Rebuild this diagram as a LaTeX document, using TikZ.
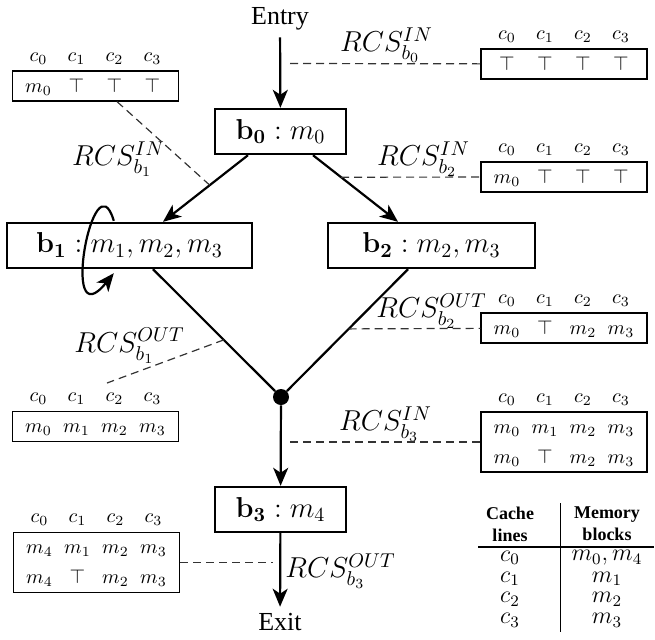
\documentclass[tikz,border=0pt]{standalone}
\usepackage[no-math]{fontspec}
\setmainfont{Liberation Serif}
\usepackage{amsmath}
\usepackage{array}
\usetikzlibrary{calc}
\usetikzlibrary{positioning}
\usetikzlibrary{arrows.meta}

\newcolumntype{C}{>{\centering\arraybackslash$}p{19pt}<{$}}
\renewcommand{\arraystretch}{1.25}
\newcommand{\cacheset}[1]{\begin{tabular}{@{}C@{}C@{}C@{}C@{}}#1\end{tabular}}
\newcommand{\cachelines}{\cacheset{c_0 & c_1 & c_2 & c_3}}

\tikzset{
    block/.style={draw, line width=1.2pt, minimum height=22.5pt, font=\Large, inner sep=2pt},
    edge/.style={line width=1.1pt},
    arrow/.style={edge, -{Stealth[length=9pt,width=7.5pt,inset=2.5pt]}},
    rcs/.style={font=\Large, inner sep=0pt},
    statebox/.style={draw, line width=0.6pt, inner xsep=3.5pt, inner ysep=0pt},
    headrow/.style={inner sep=0pt},
    link/.style={black!80, line width=0.6pt, dash pattern=on 4pt off 2.5pt},
}

\begin{document}
\begin{tikzpicture}[x=5pt,y=-5pt]
        \useasboundingbox (0,0) rectangle (65.5,63.9);

        % Blocks
        \node[font=\fontsize{13pt}{15pt}\selectfont] (entry) at (28, 1.9) {Entry};
        \node[block, minimum width=65.5pt] (b0) at (28.05, 13.15) {$\mathbf{b_0} : m_0$};
        \node[block, minimum width=122.5pt] (b1) at (12.95, 24.55) {$\mathbf{b_1} : m_1, m_2, m_3$};
        \node[block, minimum width=103.5pt] (b2) at (43.15, 24.55) {$\mathbf{b_2} : m_2, m_3$};
        \node[circle, fill, inner sep=0pt, minimum size=8pt] (join) at (28.1, 39.7) {};
        \node[block, minimum width=65.5pt] (b3) at (28.05, 50.95) {$\mathbf{b_3} : m_4$};
        \node[font=\fontsize{13pt}{15pt}\selectfont] (exit) at (28, 62.25) {Exit};

        % Control flow
        \draw[arrow] (entry) -- (b0);
        \draw[arrow] ($(b0.south)+(-3.25,0)$) -- ($(b1.north)+(3.35,0)$) coordinate[pos=0.45] (p1);
        \draw[arrow] ($(b0.south)+(3.25,0)$) -- ($(b2.north)+(-3.35,0)$) coordinate[pos=0.33] (p2);
        \draw[edge] ($(b1.south)+(2.35,0)$) -- (join) coordinate[pos=0.58] (p3);
        \draw[edge] ($(b2.south)+(-2.35,0)$) -- (join) coordinate[pos=0.49] (p4);
        \draw[arrow] (join) -- (b3);
        \draw[arrow] (b3) -- (exit);

        % Loop on b1
        \draw[arrow] ($(b1.north west)+(10.8,-0.1)$) .. controls ($(b1.north west)+(8.8,-6.8)$) and ($(b1.south west)+(5.3,7.2)$) .. ($(b1.south west)+(10.8,0.4)$);

        % RCS b0 IN
        \node[statebox] (in0) at (56.4, 6.4) {\cacheset{\top & \top & \top & \top}};
        \node[headrow, above=0pt of in0] (c0in0) {\cachelines};
        \node[rcs] (l0) at (38.65, 4.5) {$RCS_{b_0}^{IN}$};
        \coordinate (e0) at (29, 6.35);
        \draw[link] (e0) -- (in0);

        % RCS b1 IN
        \node[statebox] (in1) at (9.55, 8.6) {\cacheset{m_0 & \top & \top & \top}};
        \node[headrow, above=0pt of in1] (c0in1) {\cachelines};
        \node[rcs] (l1) at (11.85, 15.9) {$RCS_{b_1}^{IN}$};
        \draw[link] ($(in1.south)+(2.15,0)$) -- (p1);

        % RCS b2 IN
        \node[statebox] (in2) at (56.4, 17.7) {\cacheset{m_0 & \top & \top & \top}};
        \node[headrow, above=0pt of in2] (c0in2) {\cachelines};
        \node[rcs] (l2) at (42.35, 15.9) {$RCS_{b_2}^{IN}$};
        \draw[link] (p2) -- (in2);

        % RCS b2 OUT
        \node[statebox] (out2) at (56.4, 32.8) {\cacheset{m_0 & \top & m_2 & m_3}};
        \node[headrow, above=0pt of out2] (c0out2) {\cachelines};
        \node[rcs] (l3) at (43.15, 31.1) {$RCS_{b_2}^{OUT}$};
        \draw[link] (p4) -- (out2);

        % RCS b1 OUT
        \node[statebox] (out1) at (9.55, 42.65) {\cacheset{m_0 & m_1 & m_2 & m_3}};
        \node[headrow, above=0pt of out1] (c0out1) {\cachelines};
        \node[rcs] (l4) at (12.95, 34.55) {$RCS_{b_1}^{OUT}$};
        \coordinate (e1) at (10.7, 38.3);
        \draw[link] (p3) -- (e1);

        % RCS b3 IN
        \node[statebox] (in3) at (56.4, 44.2) {\cacheset{m_0 & m_1 & m_2 & m_3 \\ m_0 & \top & m_2 & m_3}};
        \node[headrow, above=0pt of in3] (c0in3) {\cachelines};
        \node[rcs] (l5) at (38.55, 42.4) {$RCS_{b_3}^{IN}$};
        \coordinate (e3) at (29, 44.2);
        \draw[link] (e3) -- (in3);

        % RCS b3 OUT
        \node[statebox] (out3) at (9.65, 56.25) {\cacheset{m_4 & m_1 & m_2 & m_3 \\ m_4 & \top & m_2 & m_3}};
        \node[headrow, above=0pt of out3] (c0out3) {\cachelines};
        \node[rcs] (l6) at (34.05, 57.1) {$RCS_{b_3}^{OUT}$};
        \coordinate (e4) at (27.3, 56.25);
        \draw[link] (out3) -- (e4);

        % Cache mapping
        \node[align=center, font=\small\bfseries] (hcache) at (51, 52.4) {Cache\\lines};
        \node[align=center, font=\small\bfseries] (hmem) at (60.7, 52.4) {Memory\\blocks};
        \draw[line width=0.5pt] (56, 50.3) -- (56, 63.2);
        \draw[line width=0.6pt] (47.8, 54.7) -- (65.4, 54.7);
        \foreach \m [count=\i from 0] in {{m_0, m_4}, m_1, m_2, m_3} {
            \node[font=\fontsize{11.5pt}{13pt}\selectfont] (cl\i) at (51, {55.8+\i*2.07}) {$c_\i$};
            \node[font=\fontsize{11.5pt}{13pt}\selectfont] (mb\i) at (60.7, {55.8+\i*2.07}) {$\m$};
        }
\end{tikzpicture}
\end{document}
